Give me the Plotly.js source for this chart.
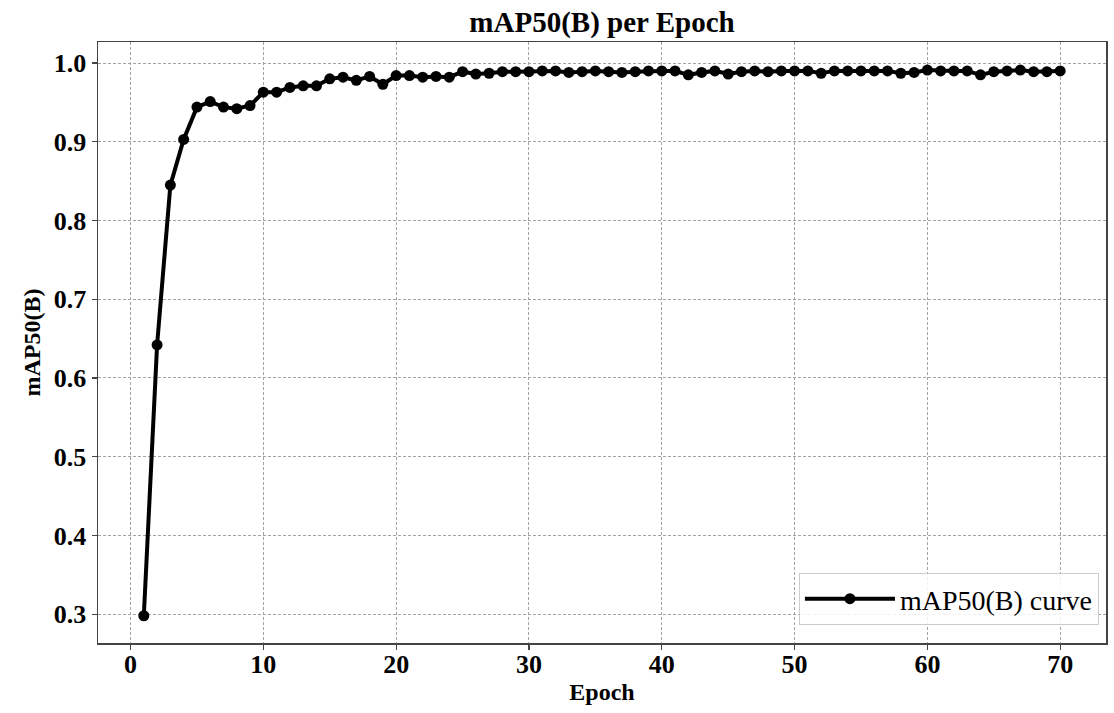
<!DOCTYPE html>
<html>
<head>
<meta charset="utf-8">
<script src="https://cdn.plot.ly/plotly-3.0.1.min.js"></script>
<style>html,body{margin:0;padding:0;background:#fff;}#chart{width:1114px;height:713px;}</style>
</head>
<body>
<div id="chart"></div>
<script>
const epochs = [];
for (let i = 1; i <= 70; i++) epochs.push(i);
const map50 = [
  0.298, 0.642, 0.845, 0.903, 0.944, 0.951, 0.944, 0.942, 0.946, 0.963,
  0.963, 0.969, 0.971, 0.971, 0.980, 0.982, 0.978, 0.983, 0.973, 0.984,
  0.984, 0.982, 0.983, 0.982, 0.989, 0.986, 0.987, 0.989, 0.989, 0.989,
  0.990, 0.990, 0.988, 0.989, 0.990, 0.989, 0.988, 0.989, 0.990, 0.990,
  0.990, 0.985, 0.988, 0.990, 0.986, 0.989, 0.990, 0.989, 0.990, 0.990,
  0.990, 0.987, 0.990, 0.990, 0.990, 0.990, 0.990, 0.987, 0.988, 0.991,
  0.990, 0.990, 0.990, 0.985, 0.989, 0.990, 0.991, 0.989, 0.989, 0.990
];
const seriesName = 'mAP50(B) curve';
const chartTitle = 'mAP50(B) per Epoch';
const xTitle = 'Epoch';
const yTitle = 'mAP50(B)';
const xTicks = [0, 10, 20, 30, 40, 50, 60, 70];
const yTicks = [0.3, 0.4, 0.5, 0.6, 0.7, 0.8, 0.9, 1.0];

const serif = 'Liberation Serif, Times New Roman, serif';

const trace = {
  x: epochs, y: map50, type: 'scatter', mode: 'lines+markers', name: seriesName,
  line: {color: '#000000', width: 4},
  marker: {color: '#000000', size: 11}
};

const axisCommon = {
  showline: true, mirror: true, linecolor: '#444444', linewidth: 1.5,
  ticks: 'outside', ticklen: 5, tickwidth: 1.2, tickcolor: '#444444',
  showgrid: true, gridcolor: '#999999', griddash: '3px,2px', gridwidth: 0.9,
  zeroline: false,
  tickfont: {family: serif, size: 26, color: '#000000', weight: 'bold'}
};

const layout = {
  width: 1114, height: 713,
  paper_bgcolor: '#ffffff', plot_bgcolor: '#ffffff',
  margin: {l: 98, r: 8, t: 42, b: 70},
  title: {text: chartTitle, font: {family: serif, size: 29, color: '#000000', weight: 'bold'}, xref: 'paper', x: 0.5, xanchor: 'center', y: 0.97, yanchor: 'middle'},
  xaxis: Object.assign({}, axisCommon, {
    range: [-2.45, 73.45], tickvals: xTicks, ticktext: xTicks.map(String),
    ticklabelstandoff: -8,
    title: {text: xTitle, font: {family: serif, size: 24, color: '#000000', weight: 'bold'}, standoff: 5}
  }),
  yaxis: Object.assign({}, axisCommon, {
    range: [0.2634, 1.0267], tickvals: yTicks, ticktext: yTicks.map(v => v.toFixed(1)),
    title: {text: yTitle, font: {family: serif, size: 24, color: '#000000', weight: 'bold'}, standoff: 6}
  }),
  showlegend: true,
  legend: {
    x: 0.993, y: 0.03, xanchor: 'right', yanchor: 'bottom',
    bgcolor: 'rgba(255,255,255,0.85)', bordercolor: '#cccccc', borderwidth: 1,
    font: {family: serif, size: 28, color: '#000000'},
    itemwidth: 90
  }
};

Plotly.newPlot('chart', [trace], layout, {displayModeBar: false, staticPlot: true});
</script>
</body>
</html>
